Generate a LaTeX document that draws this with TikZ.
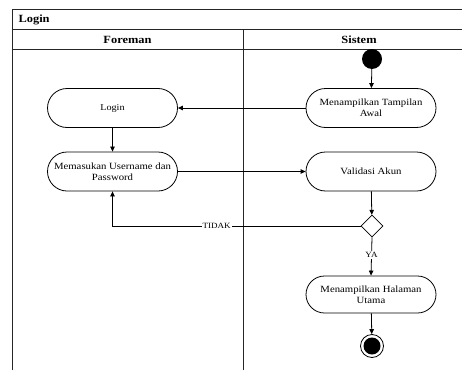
\documentclass[tikz,border=0pt]{standalone}
\usepackage{fontspec}
\setmainfont{Liberation Serif}[FakeStretch=1.13]
\usetikzlibrary{shapes.misc,shapes.geometric,arrows.meta}
\begin{document}
\begin{tikzpicture}[x=1pt,y=-1pt,
  lane/.style={draw=black!85,line width=0.9pt},
  act/.style={draw,line width=0.8pt,rounded rectangle,minimum width=134pt,minimum height=39pt,
    align=center,font=\fontsize{9.5}{11}\selectfont,inner sep=2pt},
  flow/.style={line width=0.8pt,-{Triangle[length=5pt,width=4.5pt]}},
  guard/.style={font=\fontsize{8}{9}\selectfont,fill=white,inner sep=1pt},
  hdr/.style={font=\fontsize{11}{12}\selectfont\bfseries}]
\useasboundingbox (0,0) rectangle (462,369);
% swimlane frame
\draw[lane] (12,372) -- (12,9) -- (478,9) -- (478,372);
\draw[lane] (12,29.5) -- (478,29.5);
\draw[lane] (12,49) -- (478,49);
\draw[lane] (243,29.5) -- (243,372);
\node[hdr,anchor=west] (title) at (15,19.5) {Login};
\node[hdr] (laneA) at (127.5,39.5) {Foreman};
\node[hdr] (laneB) at (359,39.5) {Sistem};
% activities
\node[circle,fill=black,minimum size=20pt,inner sep=0] (start) at (372,59) {};
\node[act] (awal) at (371,108) {Menampilkan Tampilan\\Awal};
\node[act,font=\fontsize{9}{10}\selectfont] (login) at (112.5,108) {Login};
\node[act] (masuk) at (112.5,171.5) {Memasukan Username dan\\Password};
\node[act] (valid) at (371,171.5) {Validasi Akun};
\node[diamond,draw,line width=0.8pt,minimum width=22pt,minimum height=22pt,inner sep=0] (dec) at (372,226) {};
\node[act,minimum height=37pt] (utama) at (371,294.5) {Menampilkan Halaman\\Utama};
\node[circle,draw,line width=0.8pt,minimum size=23pt,inner sep=0] (end) at (372,346) {};
\node[circle,fill=black,minimum size=17pt,inner sep=0] (endin) at (end.center) {};
% transitions
\draw[flow] (start) -- (awal);
\draw[flow] (awal.west) -- (login.east);
\draw[flow] (login) -- (masuk);
\draw[flow] (masuk.east) -- (valid.west);
\draw[flow] (valid) -- (dec);
\draw[flow] (dec.west) -- node[guard,pos=0.58] {TIDAK} (masuk.south |- dec.west) -- (masuk.south);
\draw[flow] (dec.south) -- node[guard,yshift=1.5pt] {YA} (utama.north);
\draw[flow] (utama) -- (end);
\end{tikzpicture}
\end{document}
